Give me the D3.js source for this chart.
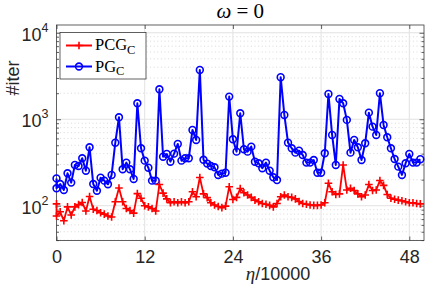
<!DOCTYPE html>
<html><head><meta charset="utf-8">
<script src="https://cdn.jsdelivr.net/npm/d3@7"></script>
<style>body{margin:0;background:#fff}svg{display:block}</style>
</head><body>
<svg id="c" width="436" height="284"></svg>
<script>
// ---- data ----
const etaX = [0, 0, ...d3.range(0.5, 50, 0.5)]; // η/10000 sample positions
const pcgC = [
105, 76,
85, 67, 97, 78, 97, 103, 109, 87, 128, 91,
88, 83, 80, 76, 74, 111, 160, 111, 93, 88,
82, 138, 122, 100, 97, 93, 87, 176, 140, 120,
108, 111, 108, 111, 108, 111, 145, 127, 212, 137,
124, 108, 102, 98, 95, 99, 166, 118, 125, 158,
141, 133, 125, 116, 111, 106, 104, 101, 97, 106,
127, 133, 127, 125, 120, 112, 106, 104, 102, 101,
101, 102, 108, 182, 145, 135, 137, 296, 152, 159,
150, 137, 127, 133, 176, 150, 152, 196, 172, 135,
122, 119, 116, 114, 111, 108, 108, 106, 105
];
const pgC = [
207, 159,
178, 152, 237, 185, 296, 288, 354, 254, 474, 178,
149, 211, 195, 177, 227, 536, 1055, 264, 315, 264,
204, 1531, 462, 332, 275, 195, 195, 2224, 369, 397,
323, 400, 518, 332, 354, 354, 752, 576, 3720, 340,
307, 288, 278, 227, 235, 241, 1827, 587, 422, 1173,
450, 422, 482, 323, 310, 271, 315, 254, 213, 198,
3063, 1121, 536, 462, 411, 433, 386, 315, 315, 338,
241, 241, 404, 1963, 658, 296, 1718, 1531, 983, 411,
576, 474, 338, 528, 1192, 821, 658, 2000, 859, 619,
462, 347, 283, 227, 310, 397, 315, 315, 345
];
const xTicks = [0, 12, 24, 36, 48];
const yMajor = [100, 1000, 10000];
const yMajorExp = ["2", "3", "4"];
const yMinor = [40,50,60,70,80,90,200,300,400,500,600,700,800,900,2000,3000,4000,5000,6000,7000,8000,9000];
const seriesNames = ["PCG", "PG"];

// ---- layout ----
const X0 = 56.5, X1 = 424, Y0 = 240.5, Y1 = 25;
const x = d3.scaleLinear().domain([0, 50]).range([X0, X1]);
const y = d3.scaleLog().domain([39.6, 12300]).range([Y0, Y1]);
const svg = d3.select("#c");
const axisCol = "#3a3a3a";
const sans = "'Liberation Sans', Arial, Helvetica, sans-serif";
const serif = "'Liberation Serif', 'Times New Roman', serif";

// grid
const grid = svg.append("g");
grid.selectAll(".mn").data(yMinor).join("line")
  .attr("x1", X0).attr("x2", X1).attr("y1", d => y(d)).attr("y2", d => y(d))
  .attr("stroke", "#cfcfcf").attr("stroke-width", 0.8).attr("stroke-dasharray", "1,2.6");
grid.selectAll(".mj").data(yMajor).join("line")
  .attr("x1", X0).attr("x2", X1).attr("y1", d => y(d)).attr("y2", d => y(d))
  .attr("stroke", "#e2e2e2").attr("stroke-width", 1);
grid.selectAll(".vx").data(xTicks.slice(1)).join("line")
  .attr("x1", d => x(d)).attr("x2", d => x(d)).attr("y1", Y1).attr("y2", Y0)
  .attr("stroke", "#e2e2e2").attr("stroke-width", 1);

// axes (ticks inward)
function styleAxis(g){
  g.select(".domain").remove();
  g.selectAll(".tick line").attr("stroke", axisCol).attr("stroke-width", 0.8);
}
svg.append("g").attr("transform", `translate(0,${Y0})`)
  .call(d3.axisBottom(x).tickValues(xTicks).tickSizeInner(-4).tickSizeOuter(0).tickPadding(10))
  .call(styleAxis)
  .call(g => g.selectAll("text").attr("font-family", sans).attr("font-size", 18).attr("fill", "#262626"));
svg.append("g").attr("transform", `translate(0,${Y1})`)
  .call(d3.axisTop(x).tickValues(xTicks).tickSizeInner(-4).tickSizeOuter(0).tickFormat(""))
  .call(styleAxis);
[[X0, d3.axisLeft], [X1, d3.axisRight]].forEach(([px, ax]) => {
  svg.append("g").attr("transform", `translate(${px},0)`)
    .call(ax(y).tickValues(yMajor).tickSizeInner(-4.5).tickSizeOuter(0).tickFormat(""))
    .call(styleAxis);
  svg.append("g").attr("transform", `translate(${px},0)`)
    .call(ax(y).tickValues(yMinor).tickSizeInner(-2.5).tickSizeOuter(0).tickFormat(""))
    .call(styleAxis);
});
svg.append("rect").attr("x", X0).attr("y", Y1).attr("width", X1 - X0).attr("height", Y0 - Y1)
  .attr("fill", "none").attr("stroke", axisCol).attr("stroke-width", 0.8);

// y tick labels 10^k
const yl = svg.append("g").selectAll("text").data(yMajor).join("text")
  .attr("x", 48.5).attr("y", d => y(d) + 8).attr("text-anchor", "end")
  .attr("font-family", sans).attr("fill", "#262626");
yl.append("tspan").attr("font-size", 18).text("10");
yl.append("tspan").attr("font-size", 12.5).attr("dy", -9).text((d, i) => yMajorExp[i]);

// series
const pts = (vals) => vals.map((v, i) => [etaX[i], v]);
const line = d3.line().x(d => x(d[0])).y(d => y(d[1]));
const blueC = "#0000ff", redC = "#ff0000";

const pgPts = pts(pgC), pcgPts = pts(pcgC);
svg.append("path").datum(pgPts).attr("d", line).attr("fill", "none")
  .attr("stroke", blueC).attr("stroke-width", 2).attr("stroke-linejoin", "round");
svg.append("g").selectAll("circle").data(pgPts).join("circle")
  .attr("cx", d => x(d[0])).attr("cy", d => y(d[1])).attr("r", 3.4)
  .attr("fill", "none").attr("stroke", blueC).attr("stroke-width", 1.6);

svg.append("path").datum(pcgPts).attr("d", line).attr("fill", "none")
  .attr("stroke", redC).attr("stroke-width", 1.8).attr("stroke-linejoin", "round");
const plus = (cx, cy, s) => `M${cx - s},${cy}H${cx + s}M${cx},${cy - s}V${cy + s}`;
svg.append("g").selectAll("path").data(pcgPts).join("path")
  .attr("d", d => plus(x(d[0]), y(d[1]), 3.8))
  .attr("stroke", redC).attr("stroke-width", 1.6).attr("fill", "none");

// legend
const lg = svg.append("g");
lg.append("rect").attr("x", 60).attr("y", 32.5).attr("width", 86).attr("height", 46.5)
  .attr("fill", "#fff").attr("stroke", axisCol).attr("stroke-width", 0.8);
const legRows = [
  {name: seriesNames[0], col: redC, ly: 45.5, ty: 50, mk: "plus"},
  {name: seriesNames[1], col: blueC, ly: 66.5, ty: 71.5, mk: "circ"}
];
legRows.forEach(r => {
  lg.append("line").attr("x1", 66).attr("x2", 92).attr("y1", r.ly).attr("y2", r.ly)
    .attr("stroke", r.col).attr("stroke-width", 2);
  if (r.mk === "plus") lg.append("path").attr("d", plus(79, r.ly, 3.8)).attr("stroke", r.col).attr("stroke-width", 1.6);
  else lg.append("circle").attr("cx", 79).attr("cy", r.ly).attr("r", 3.4).attr("fill", "none").attr("stroke", r.col).attr("stroke-width", 1.6);
  const t = lg.append("text").attr("x", 95).attr("y", r.ty).attr("font-family", serif).attr("fill", "#000");
  t.append("tspan").attr("font-size", 16.5).text(r.name);
  t.append("tspan").attr("font-size", 12.5).attr("dy", 3.5).text("C");
});

// title
const tt = svg.append("text").attr("x", (X0 + X1) / 2).attr("y", 18).attr("text-anchor", "middle")
  .attr("font-family", serif).attr("font-size", 21).attr("fill", "#000");
tt.append("tspan").attr("font-style", "italic").text("ω");
tt.append("tspan").text(" = 0");

// axis labels
const xlab = svg.append("text").attr("x", 278).attr("y", 279.5).attr("text-anchor", "middle").attr("fill", "#262626");
xlab.append("tspan").attr("font-family", serif).attr("font-style", "italic").attr("font-size", 19).text("η");
xlab.append("tspan").attr("font-family", sans).attr("font-size", 18).text("/10000");

svg.append("text").attr("transform", "translate(19,78) rotate(-90)").attr("text-anchor", "middle")
  .attr("font-family", sans).attr("font-size", 18).attr("fill", "#262626").text("#iter");
</script>
</body></html>
